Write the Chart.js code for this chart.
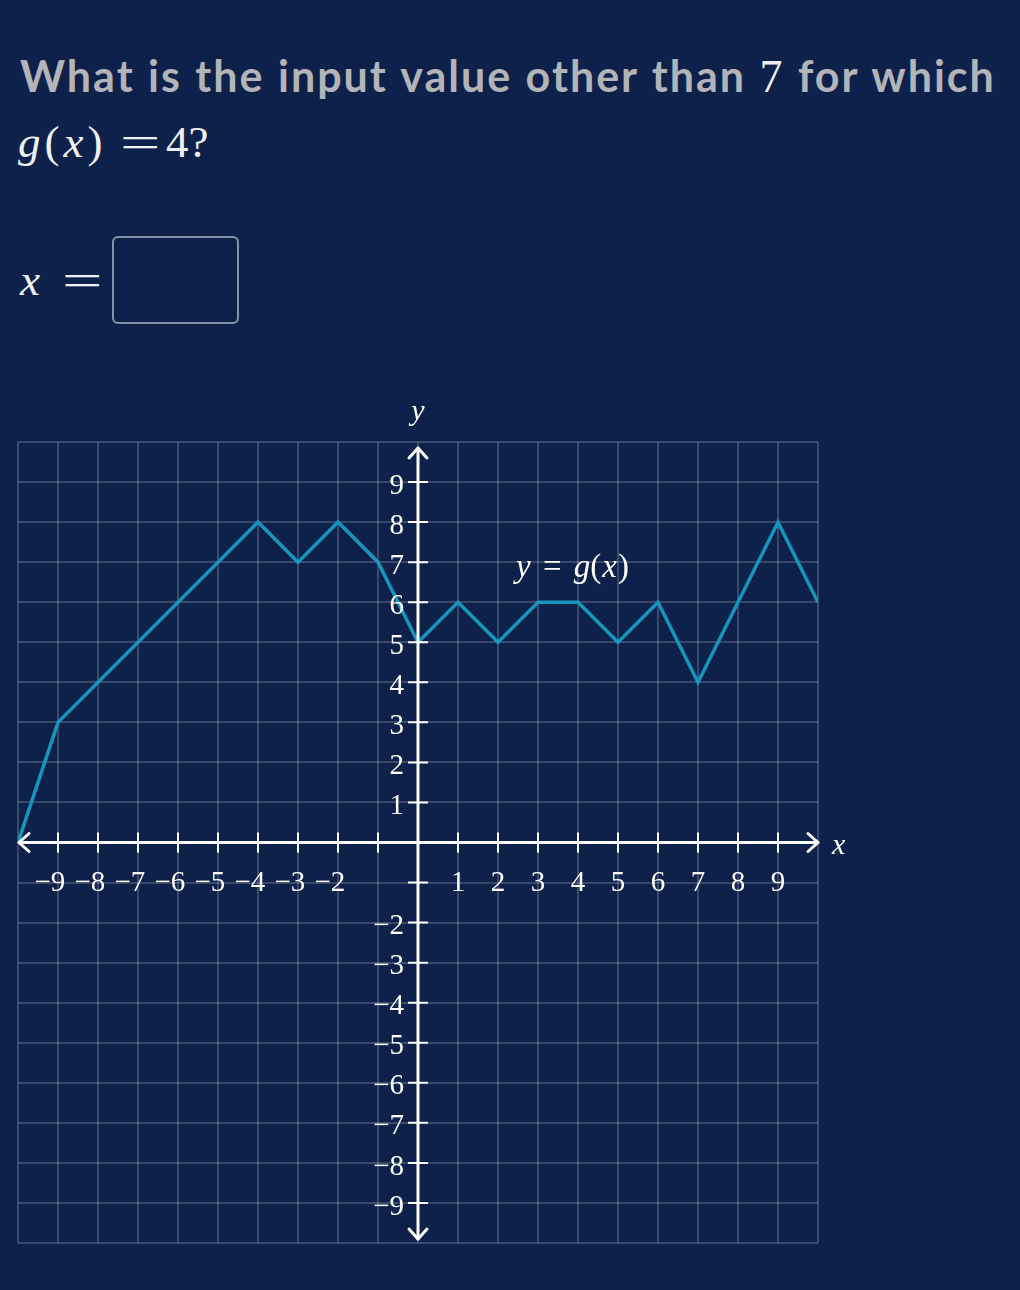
<!DOCTYPE html>
<html>
<head>
<meta charset="utf-8">
<script src="https://cdn.jsdelivr.net/npm/chart.js@4.4.1/dist/chart.umd.min.js"></script>
<style>
  html, body { margin: 0; padding: 0; background: #0d214a; width: 1020px; height: 1290px; overflow: hidden; }
  .q { position: absolute; left: 20px; top: 50px; font-family: Lato, sans-serif; font-weight: bold; font-size: 43px; letter-spacing: 2px; word-spacing: 1px; color: #b2b4b8; white-space: nowrap; }
  .m { font-family: "Liberation Serif", serif; font-weight: normal; color: #eef0f2; font-size: 46px; }
  .t { position: absolute; font-family: "Liberation Serif", serif; font-size: 45px; color: #eef0f2; white-space: nowrap; }
  .i { font-style: italic; }
  .eq { display: inline-block; transform: scaleX(1.6); transform-origin: left center; }
  .box { position: absolute; left: 112px; top: 236px; width: 123px; height: 84px; border: 2px solid #8592aa; border-radius: 6px; }
  #wrap { position: absolute; left: 0; top: 380px; }
</style>
</head>
<body>
<div class="q">What is the input value other than <span class="m">7</span> for which</div>
<div class="t" style="left:18px; top:116px; letter-spacing:4px;"><span class="i">g</span>(<span class="i">x</span>)</div>
<div class="t" style="left:120px; top:116px;"><span class="eq">=</span></div>
<div class="t" style="left:166px; top:116px;">4?</div>
<div class="t" style="left:20px; top:254px;"><span class="i">x</span></div>
<div class="t" style="left:62px; top:254px;"><span class="eq">=</span></div>
<div class="box"></div>
<div id="wrap"><canvas id="graph" width="1020" height="910"></canvas></div>
<script>
// Pontos do gráfico y = g(x)
const xValues = [-10, -9, -8, -7, -6, -5, -4, -3, -2, -1, 0, 1, 2, 3, 4, 5, 6, 7, 8, 9, 10];
const gValues = [0, 3, 4, 5, 6, 7, 8, 7, 8, 7, 5, 6, 5, 6, 6, 5, 6, 4, 6, 8, 6];

// Rótulos dos eixos
const xTickLabels = [-9, -8, -7, -6, -5, -4, -3, -2, 1, 2, 3, 4, 5, 6, 7, 8, 9];
const yTickLabels = [9, 8, 7, 6, 5, 4, 3, 2, 1, -2, -3, -4, -5, -6, -7, -8, -9];
const tickValues = [-9, -8, -7, -6, -5, -4, -3, -2, -1, 1, 2, 3, 4, 5, 6, 7, 8, 9];
const curveLabel = { x: 2.45, y: 6.85 };

const mathFont = '"Liberation Serif", serif';

function fmt(v) {
	return v < 0 ? "\u2212" + Math.abs(v) : String(v);
}

// Desenho dos eixos com setas
const axesPlugin = {
	id: "axes",
	afterDatasetsDraw(chart) {
		const ctx = chart.ctx;
		const sx = chart.scales.x;
		const sy = chart.scales.y;
		const ca = chart.chartArea;
		const x0 = sx.getPixelForValue(0);
		const y0 = sy.getPixelForValue(0);

		ctx.save();
		ctx.strokeStyle = "#ffffff";
		ctx.fillStyle = "#ffffff";
		ctx.lineWidth = 3;
		ctx.lineCap = "round";
		ctx.lineJoin = "round";

		// eixo x
		ctx.beginPath();
		ctx.moveTo(ca.left + 1, y0);
		ctx.lineTo(ca.right, y0);
		ctx.stroke();
		// eixo y
		ctx.beginPath();
		ctx.moveTo(x0, ca.top + 6);
		ctx.lineTo(x0, ca.bottom - 4);
		ctx.stroke();

		// setas
		const a = 10, b = 9;
		ctx.beginPath();
		ctx.moveTo(ca.left + 1 + a, y0 - b); ctx.lineTo(ca.left + 1, y0); ctx.lineTo(ca.left + 1 + a, y0 + b);
		ctx.moveTo(ca.right - a, y0 - b); ctx.lineTo(ca.right, y0); ctx.lineTo(ca.right - a, y0 + b);
		ctx.moveTo(x0 - b, ca.top + 6 + a); ctx.lineTo(x0, ca.top + 6); ctx.lineTo(x0 + b, ca.top + 6 + a);
		ctx.moveTo(x0 - b, ca.bottom - 4 - a); ctx.lineTo(x0, ca.bottom - 4); ctx.lineTo(x0 + b, ca.bottom - 4 - a);
		ctx.stroke();

		// marcas
		ctx.lineWidth = 2;
		ctx.lineCap = "butt";
		ctx.beginPath();
		for (const v of tickValues) {
			const px = sx.getPixelForValue(v);
			ctx.moveTo(px, y0 - 10); ctx.lineTo(px, y0 + 10);
			const py = sy.getPixelForValue(v);
			ctx.moveTo(x0 - 10, py); ctx.lineTo(x0 + 10, py);
		}
		ctx.stroke();

		// rótulos
		ctx.font = "29px " + mathFont;
		ctx.textBaseline = "middle";
		const dw = ctx.measureText("0").width;
		ctx.textAlign = "right";
		for (const v of xTickLabels) {
			ctx.fillText(fmt(v), sx.getPixelForValue(v) + dw / 2, y0 + 41);
		}
		for (const v of yTickLabels) {
			ctx.fillText(fmt(v), x0 - 14, sy.getPixelForValue(v) + 4);
		}

		// nomes dos eixos
		ctx.font = "italic 30px " + mathFont;
		ctx.textAlign = "center";
		ctx.fillText("y", x0, ca.top - 30);
		ctx.textAlign = "left";
		ctx.fillText("x", ca.right + 14, y0 + 4);

		// y = g(x)
		let px = sx.getPixelForValue(curveLabel.x);
		const py = sy.getPixelForValue(curveLabel.y);
		const parts = [
			["italic", "y", 0], ["", " = ", 8], ["italic", "g", 0], ["", "(", 1], ["italic", "x", 1], ["", ")", 0]
		];
		for (const [st, t, gap] of parts) {
			ctx.font = (st ? st + " " : "") + "33px " + mathFont;
			ctx.fillText(t, px + (t === " = " ? gap / 2 : 0), py);
			px += ctx.measureText(t).width + gap;
		}
		ctx.restore();
	}
};

// Gráfico
let grafico = new Chart(document.getElementById("graph"), {
	type: "line",
	data: {
		datasets: [{
			data: xValues.map((x, i) => ({ x: x, y: gValues[i] })),
			borderColor: "#1796bd",
			borderWidth: 3.5,
			pointRadius: 0,
			tension: 0,
			fill: false,
		}],
	},
	options: {
		responsive: false,
		animation: false,
		devicePixelRatio: 1,
		layout: {
			padding: { left: 18, right: 202, top: 62, bottom: 47 },
		},
		plugins: {
			legend: { display: false },
			tooltip: { enabled: false },
		},
		scales: {
			x: {
				type: "linear",
				min: -10,
				max: 10,
				ticks: { display: false, stepSize: 1 },
				grid: { color: "rgba(255,255,255,0.18)", lineWidth: 2, drawTicks: false },
				border: { display: false },
			},
			y: {
				type: "linear",
				min: -10,
				max: 10,
				ticks: { display: false, stepSize: 1 },
				grid: { color: "rgba(255,255,255,0.18)", lineWidth: 2, drawTicks: false },
				border: { display: false },
			},
		},
	},
	plugins: [axesPlugin],
});
</script>
</body>
</html>
